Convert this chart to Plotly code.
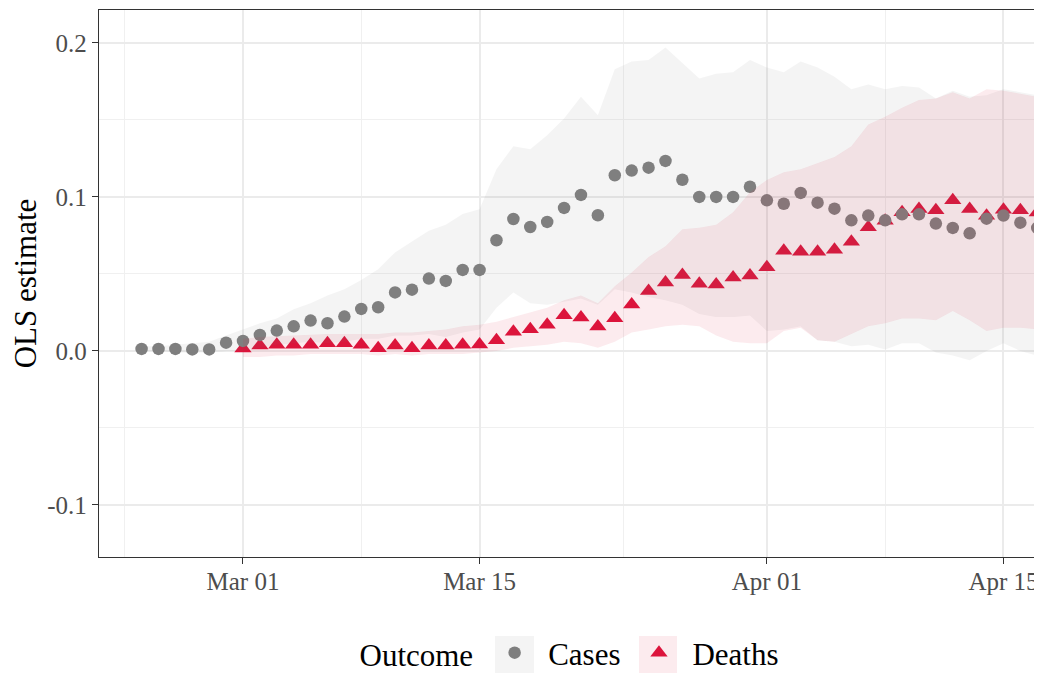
import pandas as pd
import plotly.graph_objects as go

# ---------------- data ----------------
cases_start, cases_end = "2020-02-24", "2020-04-17"
deaths_start, deaths_end = "2020-03-01", "2020-04-17"

cases_est = [0.0013, 0.0013, 0.0013, 0.0010, 0.0010, 0.0054,
             0.0065, 0.0104, 0.0132, 0.0160, 0.0197, 0.0180, 0.0223, 0.0273, 0.0284, 0.0380,
             0.0398, 0.0470, 0.0455, 0.0526, 0.0526, 0.0719, 0.0857, 0.0805, 0.0838, 0.0929,
             0.1013, 0.0881, 0.1141, 0.1171, 0.1190, 0.1234, 0.1112, 0.1000, 0.1000, 0.1000, 0.1066,
             0.0978, 0.0956, 0.1026, 0.0963, 0.0924, 0.0848, 0.0879, 0.0848, 0.0887, 0.0887,
             0.0827, 0.0799, 0.0764, 0.0859, 0.0879, 0.0833, 0.0799]
cases_hi = [0.003, 0.003, 0.004, 0.005, 0.006, 0.010,
            0.014, 0.018, 0.021, 0.027, 0.031, 0.036, 0.040, 0.046, 0.053, 0.064,
            0.071, 0.078, 0.082, 0.089, 0.092, 0.118, 0.133, 0.131, 0.140, 0.151,
            0.165, 0.153, 0.183, 0.188, 0.189, 0.197, 0.187, 0.177, 0.180, 0.181, 0.189,
            0.184, 0.181, 0.188, 0.184, 0.178, 0.170, 0.173, 0.170, 0.172, 0.171,
            0.164, 0.169, 0.165, 0.166, 0.170, 0.168, 0.166]
cases_lo = [0.000, 0.000, -0.001, -0.001, -0.001, 0.000,
            0.000, 0.002, 0.004, 0.005, 0.006, 0.005, 0.006, 0.008, 0.008, 0.010,
            0.010, 0.011, 0.009, 0.012, 0.014, 0.028, 0.038, 0.031, 0.030, 0.032,
            0.034, 0.030, 0.040, 0.038, 0.035, 0.033, 0.030, 0.024, 0.022, 0.022, 0.023,
            0.013, 0.014, 0.016, 0.007, 0.006, 0.003, 0.004, 0.001, 0.005, 0.005,
            -0.001, -0.003, -0.006, 0.000, 0.005, 0.000, -0.003]

deaths_est = [0.0016, 0.0035, 0.0040, 0.0040, 0.0040, 0.0050, 0.0050, 0.0040, 0.0018, 0.0035,
              0.0018, 0.0035, 0.0035, 0.0040, 0.0042, 0.0070, 0.0124, 0.0141, 0.0170, 0.0232,
              0.0217, 0.0159, 0.0213, 0.0302, 0.0390, 0.0445, 0.0494, 0.0436, 0.0432, 0.0477, 0.0490,
              0.0544, 0.0651, 0.0644, 0.0644, 0.0657, 0.0709, 0.0804, 0.0845, 0.0901, 0.0921,
              0.0914, 0.0979, 0.0921, 0.0878, 0.0917, 0.0914, 0.0899]
deaths_hi = [0.008, 0.009, 0.0095, 0.010, 0.0105, 0.011, 0.011, 0.011, 0.011, 0.012,
             0.012, 0.013, 0.014, 0.016, 0.017, 0.019, 0.022, 0.025, 0.028, 0.033,
             0.036, 0.031, 0.042, 0.051, 0.061, 0.068, 0.079, 0.080, 0.082, 0.090, 0.103,
             0.111, 0.116, 0.118, 0.122, 0.126, 0.133, 0.147, 0.152, 0.158, 0.163,
             0.164, 0.168, 0.164, 0.170, 0.169, 0.167, 0.165]
deaths_lo = [-0.004, -0.004, -0.003, -0.003, -0.002, -0.002, -0.002, -0.002, -0.003, -0.002,
             -0.003, -0.002, -0.002, -0.002, -0.001, 0.000, 0.002, 0.003, 0.004, 0.006,
             0.005, 0.002, 0.006, 0.012, 0.014, 0.016, 0.017, 0.016, 0.010, 0.006, 0.005,
             0.005, 0.013, 0.015, 0.007, 0.006, 0.011, 0.016, 0.018, 0.021, 0.021,
             0.020, 0.026, 0.020, 0.013, 0.015, 0.015, 0.014]

x_tickvals = ["2020-03-01", "2020-03-15", "2020-04-01", "2020-04-15"]
x_ticktext = ["Mar 01", "Mar 15", "Apr 01", "Apr 15"]
x_minorvals = ["2020-02-23", "2020-03-08", "2020-03-23 12:00", "2020-04-08"]
y_tickvals = [-0.1, 0.0, 0.1, 0.2]
y_ticktext = ["-0.1", "0.0", "0.1", "0.2"]
y_minorvals = [-0.05, 0.05, 0.15]

# ---------------- figure ----------------
cases_dates = list(pd.date_range(cases_start, cases_end))
deaths_dates = list(pd.date_range(deaths_start, deaths_end))

GREY = "#7f7f7f"
RED = "#dc143c"
GREY_FILL = "rgba(127,127,127,0.086)"
RED_FILL = "rgba(220,20,60,0.086)"
FONT = "Liberation Serif"

# the page body adds an 8px offset; figure sized to fit the 1042x673 window
OFF = 8
W, H = 1042 - OFF, 673 - OFF
ML, MR, MT, MB = 99 - OFF, 0, 10 - OFF, 116
PW, PH = W - ML - MR, H - MT - MB


def px_x(sx):
    return (sx - OFF - ML) / PW


def px_y(sy):
    return (H - MB - (sy - OFF)) / PH


fig = go.Figure()
fig.add_trace(go.Scatter(x=deaths_dates, y=deaths_est, mode="markers", name="Deaths",
                         marker=dict(symbol="triangle-up", size=15, color=RED),
                         legendrank=2))
fig.add_trace(go.Scatter(x=cases_dates, y=cases_est, mode="markers", name="Cases",
                         marker=dict(symbol="circle", size=12.5, color=GREY),
                         legendrank=1))
fig.add_trace(go.Scatter(x=cases_dates + cases_dates[::-1], y=cases_hi + cases_lo[::-1],
                         fill="toself", fillcolor=GREY_FILL,
                         mode="lines", line=dict(width=0), showlegend=False, hoverinfo="skip"))
fig.add_trace(go.Scatter(x=deaths_dates + deaths_dates[::-1], y=deaths_hi + deaths_lo[::-1],
                         fill="toself", fillcolor=RED_FILL,
                         mode="lines", line=dict(width=0), showlegend=False, hoverinfo="skip"))

# legend key backgrounds (ribbon fill shown behind the symbol, as in the reference)
for (x0, x1), col in [((495, 534), GREY_FILL), ((639, 677), RED_FILL)]:
    fig.add_shape(type="rect", xref="paper", yref="paper",
                  x0=px_x(x0), x1=px_x(x1), y0=px_y(636), y1=px_y(676),
                  fillcolor=col, line=dict(width=0), layer="below")

fig.update_layout(
    width=W, height=H,
    margin=dict(l=ML, r=MR, t=MT, b=MB, autoexpand=False),
    plot_bgcolor="white", paper_bgcolor="white",
    font=dict(family=FONT, color="black", size=25),
    showlegend=True,
    legend=dict(orientation="h", x=px_x(357.5), xanchor="left", y=px_y(653), yanchor="middle",
                itemwidth=57,
                font=dict(family=FONT, size=31, color="black"),
                title=dict(text="Outcome", side="left", font=dict(family=FONT, size=31)),
                bgcolor="rgba(0,0,0,0)"),
)
fig.update_xaxes(
    type="date", automargin=False,
    range=["2020-02-21 11:31", "2020-04-17 06:43"],
    tickmode="array", tickvals=x_tickvals, ticktext=x_ticktext,
    tickfont=dict(family=FONT, size=25, color="#4d4d4d"),
    ticks="outside", ticklen=6, tickwidth=1.3, tickcolor="#333333",
    ticklabelstandoff=-4,
    showgrid=True, gridcolor="#ebebeb", gridwidth=2,
    minor=dict(tickmode="array", tickvals=x_minorvals, showgrid=True,
               gridcolor="#f0f0f0", gridwidth=1, ticks=""),
    showline=True, linecolor="#333333", linewidth=1.3, mirror=True,
    zeroline=False,
)
fig.update_yaxes(
    automargin=False,
    range=[-0.1338, 0.2214],
    tickmode="array", tickvals=y_tickvals, ticktext=y_ticktext,
    tickfont=dict(family=FONT, size=25, color="#4d4d4d"),
    ticks="outside", ticklen=6, tickwidth=1.3, tickcolor="#333333",
    showgrid=True, gridcolor="#ebebeb", gridwidth=2,
    minor=dict(tickmode="array", tickvals=y_minorvals, showgrid=True,
               gridcolor="#f0f0f0", gridwidth=1, ticks=""),
    showline=True, linecolor="#333333", linewidth=1.3, mirror=False,
    zeroline=False,
    title=dict(text="OLS estimate", font=dict(family=FONT, size=31, color="black"), standoff=2),
)

fig.write_html("out.html")
